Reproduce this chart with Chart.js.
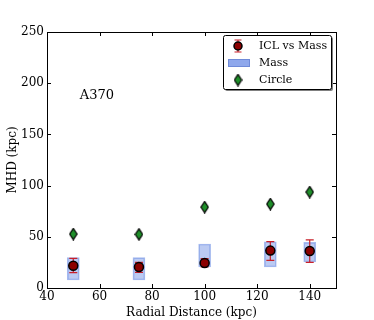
<!DOCTYPE html>
<html><head><meta charset="utf-8">
<script src="https://cdn.jsdelivr.net/npm/chart.js@4/dist/chart.umd.min.js"></script>
<style>html,body{margin:0;padding:0;background:#fff}#wrap{width:374px;height:320px}</style>
</head><body><div id="wrap"><canvas id="c" width="374" height="320"></canvas></div>
<script>
// ---- data ----
const radii = [50, 75, 100, 125, 140];
const iclMHD = [21.8, 20.5, 24.4, 36.5, 36.1];
const iclErrLow = [15, 15.3, 20.5, 27, 25];
const iclErrHigh = [29, 25, 28.6, 45.2, 46.9];
const massLow = [7.8, 7.8, 20.5, 20.5, 25.4];
const massHigh = [29.6, 29.6, 43, 45.2, 44.6];
const circleMHD = [52.7, 52.4, 79, 82, 93.7];
const xTicks = [40, 60, 80, 100, 120, 140];
const yTicks = [0, 50, 100, 150, 200, 250];
const seriesNames = ['ICL vs Mass', 'Mass', 'Circle'];
const clusterLabel = 'A370';

const FONT = "'DejaVu Serif', serif";
const RED_FILL = '#8b0000', ERR_COL = '#c8202a', GREEN = '#1f8f2a';
const BOX_FILL = 'rgba(120,150,230,0.5)', BOX_EDGE = 'rgba(120,150,230,0.65)';
const LEG_FILL = '#8fa8ec', LEG_EDGE = '#6f8ad8';

function diamondCanvas(w, h) {
  const c = document.createElement('canvas');
  c.width = w; c.height = h;
  const g = c.getContext('2d');
  g.beginPath();
  g.moveTo(w/2, 0.8); g.lineTo(w-0.8, h/2); g.lineTo(w/2, h-0.8); g.lineTo(0.8, h/2); g.closePath();
  g.fillStyle = GREEN; g.fill();
  g.lineWidth = 1.2; g.strokeStyle = '#000'; g.stroke();
  return c;
}
const diamond = diamondCanvas(9, 13);

const errPlugin = {
  id: 'err',
  beforeDatasetDraw(chart, args) {
    if (args.index !== 1) return;
    const ctx = chart.ctx, xs = chart.scales.x, ys = chart.scales.y;
    ctx.save();
    ctx.strokeStyle = ERR_COL; ctx.lineWidth = 1.2;
    radii.forEach((r, i) => {
      const px = xs.getPixelForValue(r);
      const y1 = ys.getPixelForValue(iclErrLow[i]), y2 = ys.getPixelForValue(iclErrHigh[i]);
      ctx.beginPath();
      ctx.moveTo(px, y1); ctx.lineTo(px, y2);
      ctx.moveTo(px-4, y1); ctx.lineTo(px+4, y1);
      ctx.moveTo(px-4, y2); ctx.lineTo(px+4, y2);
      ctx.stroke();
    });
    ctx.restore();
  }
};

const framePlugin = {
  id: 'frame',
  afterDatasetsDraw(chart) {
    const ctx = chart.ctx, a = chart.chartArea, xs = chart.scales.x, ys = chart.scales.y;
    ctx.save();
    ctx.strokeStyle = '#000'; ctx.lineWidth = 1;
    ctx.strokeRect(Math.round(a.left)+0.5, Math.round(a.top)+0.5, Math.round(a.right-a.left), Math.round(a.bottom-a.top));
    ctx.beginPath();
    xTicks.forEach(v => {
      const p = Math.round(xs.getPixelForValue(v)) + 0.5;
      ctx.moveTo(p, a.bottom); ctx.lineTo(p, a.bottom-4);
      ctx.moveTo(p, a.top); ctx.lineTo(p, a.top+4);
    });
    yTicks.forEach(v => {
      const p = Math.round(ys.getPixelForValue(v)) + 0.5;
      ctx.moveTo(a.left, p); ctx.lineTo(a.left+4, p);
      ctx.moveTo(a.right, p); ctx.lineTo(a.right-4, p);
    });
    ctx.stroke();
    // annotation label
    ctx.fillStyle = '#000'; ctx.font = '13px ' + FONT;
    ctx.textBaseline = 'middle'; ctx.textAlign = 'left';
    ctx.fillText(clusterLabel, xs.getPixelForValue(52.5), ys.getPixelForValue(188));
    ctx.restore();
  },
  afterDraw(chart) {
    const ctx = chart.ctx, a = chart.chartArea;
    const bw = 108, bh = 54;
    const bx = a.right - 5 - bw, by = a.top + 3;
    ctx.save();
    // shadow
    ctx.fillStyle = '#808080';
    roundRect(ctx, bx+2, by+2, bw, bh, 2); ctx.fill();
    ctx.fillStyle = '#fff'; ctx.strokeStyle = '#000'; ctx.lineWidth = 1;
    roundRect(ctx, bx+0.5, by+0.5, bw, bh, 2); ctx.fill(); ctx.stroke();
    const rows = [by+11, by+28, by+45];
    const mx = bx + 15;
    // ICL entry
    ctx.strokeStyle = ERR_COL; ctx.lineWidth = 1.2;
    ctx.beginPath();
    ctx.moveTo(mx, rows[0]-6); ctx.lineTo(mx, rows[0]+6);
    ctx.moveTo(mx-3.5, rows[0]-6); ctx.lineTo(mx+3.5, rows[0]-6);
    ctx.moveTo(mx-3.5, rows[0]+6); ctx.lineTo(mx+3.5, rows[0]+6);
    ctx.stroke();
    ctx.beginPath(); ctx.arc(mx, rows[0], 4, 0, Math.PI*2);
    ctx.fillStyle = RED_FILL; ctx.fill(); ctx.strokeStyle = '#000'; ctx.lineWidth = 1.5; ctx.stroke();
    // Mass patch
    ctx.fillStyle = LEG_FILL; ctx.strokeStyle = LEG_EDGE; ctx.lineWidth = 1;
    ctx.fillRect(bx+5, rows[1]-4, 22, 8); ctx.strokeRect(bx+5.5, rows[1]-3.5, 21, 7);
    // Circle diamond
    ctx.drawImage(diamond, mx - 4.5, rows[2] - 6.5);
    ctx.fillStyle = '#000'; ctx.font = '11px ' + FONT;
    ctx.textAlign = 'left'; ctx.textBaseline = 'middle';
    seriesNames.forEach((n, i) => ctx.fillText(n, bx + 36, rows[i]));
    ctx.restore();
  }
};
function roundRect(ctx, x, y, w, h, r) {
  ctx.beginPath();
  ctx.moveTo(x+r, y); ctx.lineTo(x+w-r, y); ctx.quadraticCurveTo(x+w, y, x+w, y+r);
  ctx.lineTo(x+w, y+h-r); ctx.quadraticCurveTo(x+w, y+h, x+w-r, y+h);
  ctx.lineTo(x+r, y+h); ctx.quadraticCurveTo(x, y+h, x, y+h-r);
  ctx.lineTo(x, y+r); ctx.quadraticCurveTo(x, y, x+r, y); ctx.closePath();
}

new Chart(document.getElementById('c'), {
  type: 'scatter',
  data: {
    datasets: [
      {
        type: 'bar', label: seriesNames[1], order: 3,
        data: radii.map((r, i) => ({ x: r, y: [massLow[i], massHigh[i]] })),
        backgroundColor: BOX_FILL, borderColor: BOX_EDGE, borderWidth: 1,
        barThickness: 12, borderSkipped: false
      },
      {
        label: seriesNames[0], order: 2,
        data: radii.map((r, i) => ({ x: r, y: iclMHD[i] })),
        pointRadius: 4.5, pointBackgroundColor: RED_FILL, pointBorderColor: '#000', pointBorderWidth: 1.5
      },
      {
        label: seriesNames[2], order: 1,
        data: radii.map((r, i) => ({ x: r, y: circleMHD[i] })),
        pointStyle: diamond, pointRadius: 6
      }
    ]
  },
  options: {
    responsive: false, animation: false, devicePixelRatio: 1,
    layout: { padding: { left: 0, right: 38, top: 32, bottom: 0 } },
    plugins: { legend: { display: false }, tooltip: { enabled: false } },
    scales: {
      x: {
        type: 'linear', min: 40, max: 150, offset: false,
        afterBuildTicks: s => { s.ticks = xTicks.map(v => ({ value: v })); },
        afterFit: s => { s.height = 32; },
        grid: { display: false, drawTicks: false },
        border: { display: false },
        ticks: { font: { family: FONT, size: 12 }, color: '#000', padding: 2, maxRotation: 0 },
        title: { display: true, text: 'Radial Distance (kpc)', font: { family: FONT, size: 12 }, color: '#000', padding: { top: 0, bottom: 0 } }
      },
      y: {
        min: 0, max: 250,
        afterBuildTicks: s => { s.ticks = yTicks.map(v => ({ value: v })); },
        afterFit: s => { s.width = 47; },
        grid: { display: false, drawTicks: false },
        border: { display: false },
        ticks: { font: { family: FONT, size: 12 }, color: '#000', padding: 3 },
        title: { display: true, text: 'MHD (kpc)', font: { family: FONT, size: 12 }, color: '#000', padding: { top: 6, bottom: 0 } }
      }
    }
  },
  plugins: [errPlugin, framePlugin]
});
</script></body></html>
